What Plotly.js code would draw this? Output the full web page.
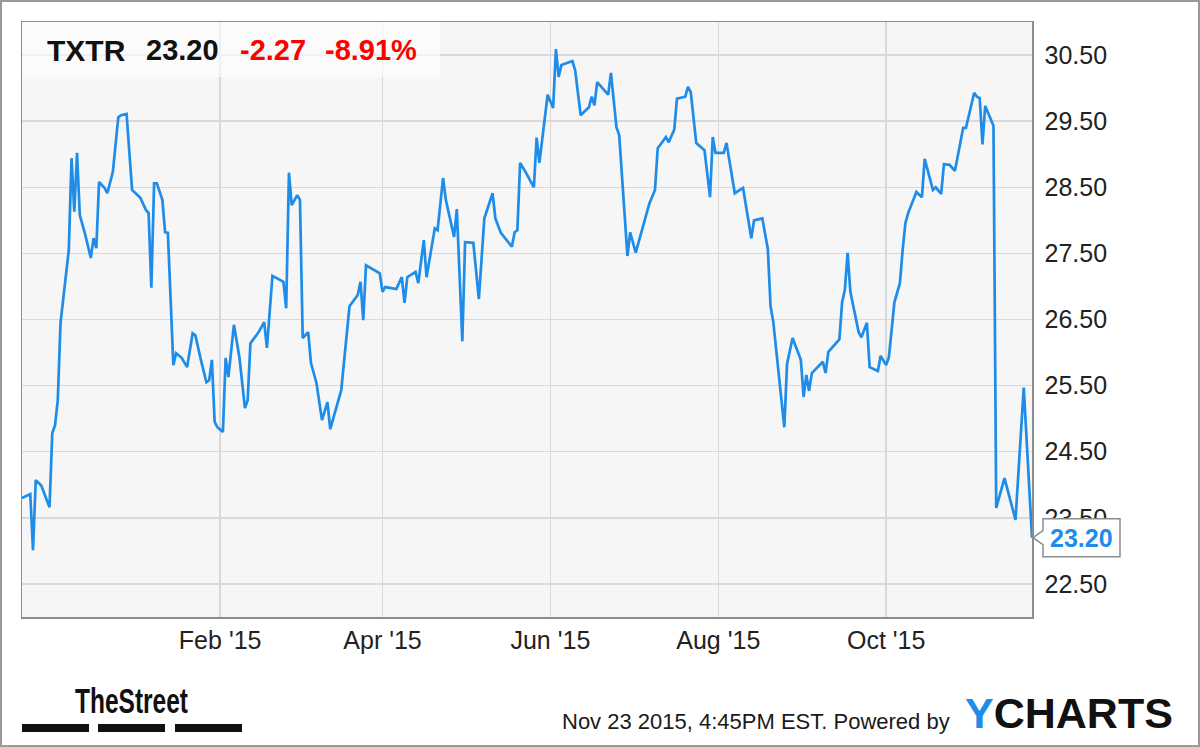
<!DOCTYPE html>
<html><head><meta charset="utf-8">
<script src="https://cdn.plot.ly/plotly-3.0.1.min.js"></script>
<style>html,body{margin:0;padding:0;background:#fff;}#chart{width:1200px;height:747px;}</style>
</head><body><div id="chart"></div>
<script>
const ticker = 'TXTR';
const dates = [
'2014-11-21','2014-11-24','2014-11-25','2014-11-26','2014-11-28','2014-12-01','2014-12-02','2014-12-03','2014-12-04','2014-12-05',
'2014-12-08','2014-12-09','2014-12-10','2014-12-11','2014-12-12','2014-12-14','2014-12-16','2014-12-17','2014-12-18','2014-12-19',
'2014-12-21','2014-12-22','2014-12-24','2014-12-26','2014-12-27','2014-12-29','2014-12-31','2015-01-03','2015-01-05','2015-01-06',
'2015-01-07','2015-01-08','2015-01-09','2015-01-11','2015-01-12','2015-01-13','2015-01-15','2015-01-16','2015-01-18','2015-01-20',
'2015-01-22','2015-01-23','2015-01-25','2015-01-27','2015-01-28','2015-01-29','2015-01-30','2015-01-31','2015-02-02','2015-02-03',
'2015-02-04','2015-02-06','2015-02-08','2015-02-10','2015-02-11','2015-02-12','2015-02-15','2015-02-17','2015-02-18','2015-02-20',
'2015-02-24','2015-02-25','2015-02-26','2015-02-27','2015-03-01','2015-03-02','2015-03-03','2015-03-05','2015-03-06','2015-03-08',
'2015-03-10','2015-03-12','2015-03-13','2015-03-17','2015-03-20','2015-03-23','2015-03-24','2015-03-25','2015-03-26','2015-03-31',
'2015-04-01','2015-04-02','2015-04-06','2015-04-08','2015-04-09','2015-04-10','2015-04-13','2015-04-14','2015-04-16','2015-04-17',
'2015-04-20','2015-04-21','2015-04-23','2015-04-24','2015-04-27','2015-04-28','2015-04-30','2015-05-01','2015-05-04','2015-05-06',
'2015-05-08','2015-05-11','2015-05-12','2015-05-14','2015-05-18','2015-05-19','2015-05-20','2015-05-21','2015-05-23','2015-05-26',
'2015-05-27','2015-05-28','2015-05-31','2015-06-02','2015-06-03','2015-06-04','2015-06-05','2015-06-09','2015-06-10','2015-06-12',
'2015-06-15','2015-06-16','2015-06-17','2015-06-18','2015-06-22','2015-06-23','2015-06-25','2015-06-26','2015-06-29','2015-06-30',
'2015-07-02','2015-07-05','2015-07-07','2015-07-09','2015-07-10','2015-07-13','2015-07-14','2015-07-16','2015-07-17','2015-07-20',
'2015-07-21','2015-07-22','2015-07-24','2015-07-27','2015-07-29','2015-07-30','2015-07-31','2015-08-03','2015-08-04','2015-08-07',
'2015-08-10','2015-08-13','2015-08-14','2015-08-17','2015-08-19','2015-08-20','2015-08-21','2015-08-25','2015-08-26','2015-08-28',
'2015-08-31','2015-09-01','2015-09-02','2015-09-03','2015-09-04','2015-09-08','2015-09-09','2015-09-10','2015-09-14','2015-09-15',
'2015-09-16','2015-09-17','2015-09-18','2015-09-21','2015-09-22','2015-09-24','2015-09-25','2015-09-28','2015-09-29','2015-10-01',
'2015-10-02','2015-10-04','2015-10-06','2015-10-07','2015-10-08','2015-10-09','2015-10-12','2015-10-14','2015-10-15','2015-10-18',
'2015-10-19','2015-10-21','2015-10-22','2015-10-24','2015-10-26','2015-10-29','2015-10-30','2015-11-02','2015-11-03','2015-11-04',
'2015-11-05','2015-11-06','2015-11-09','2015-11-10','2015-11-13','2015-11-17','2015-11-20','2015-11-23'
];
const prices = [
23.80,23.86,23.01,24.07,23.99,23.66,24.78,24.90,25.28,26.45,
27.55,28.94,28.13,29.02,28.08,27.78,27.43,27.73,27.58,28.58,
28.49,28.41,28.73,29.56,29.59,29.61,28.46,28.34,28.16,28.11,
26.98,28.56,28.56,28.31,27.82,27.81,25.81,25.99,25.92,25.78,
26.29,26.26,25.89,25.55,25.58,25.89,24.95,24.87,24.80,25.92,
25.63,26.42,25.93,25.16,25.28,26.14,26.31,26.46,26.07,27.16,
27.07,26.67,28.72,28.23,28.38,28.31,26.22,26.31,25.84,25.54,
24.98,25.25,24.84,25.43,26.70,26.87,27.07,26.49,27.32,27.20,
26.92,26.99,26.96,27.14,26.75,27.14,27.22,27.05,27.70,27.14,
27.88,27.85,28.64,28.31,27.75,28.17,26.17,27.67,27.66,26.81,
28.03,28.41,28.03,27.81,27.60,27.82,27.85,28.87,28.73,28.50,
29.25,28.87,29.90,29.70,30.59,30.17,30.35,30.41,30.27,29.59,
29.71,29.87,29.74,30.09,29.90,30.23,29.41,29.29,27.46,27.82,
27.51,27.97,28.26,28.46,29.09,29.26,29.18,29.37,29.84,29.87,
30.02,29.94,29.17,29.06,28.35,29.26,29.02,29.02,29.17,28.41,
28.49,27.73,28.00,28.03,27.57,26.70,26.46,24.87,25.83,26.22,
25.89,25.33,25.66,25.42,25.69,25.86,25.69,26.01,26.20,26.76,
26.95,27.51,26.92,26.31,26.23,26.45,25.78,25.72,25.95,25.81,
25.93,26.76,27.05,27.55,27.96,28.11,28.43,28.35,28.93,28.46,
28.50,28.40,28.85,28.84,28.75,29.40,29.40,29.93,29.87,29.85,
29.15,29.73,29.43,23.65,24.10,23.47,25.47,23.20
];
const xRange = ['2014-11-21', '2015-11-23'];
const yRange = [22, 31];
const xTickVals = ['2015-02-01','2015-04-01','2015-06-01','2015-08-01','2015-10-01'];
const xTickText = ["Feb '15","Apr '15","Jun '15","Aug '15","Oct '15"];
const yTickVals = [22.5,23.5,24.5,25.5,26.5,27.5,28.5,29.5,30.5];
const yTickText = ['22.50','23.50','24.50','25.50','26.50','27.50','28.50','29.50','30.50'];
const footerText = 'Nov 23 2015, 4:45PM EST. Powered by';
const streetLogo = 'TheStreet';

const last = prices[prices.length - 1];
const prev = prices[prices.length - 2];
const chg = last - prev;
const pct = chg / prev * 100;

const W = 1200, H = 747, L = 22, R = 168, T = 22, B = 130;
const PW = W - L - R, PH = H - T - B;
const px = x => (x - L) / PW;
const py = y => (H - B - y) / PH;

const BLUE = '#1e8ce8';
const FONT = 'Liberation Sans, Arial, Helvetica, sans-serif';

const trace = {
  x: dates, y: prices, type: 'scatter', mode: 'lines',
  line: {color: BLUE, width: 2.7}, hoverinfo: 'skip'
};

const ann = (x, y, text, size, color) => ({
  xref: 'paper', yref: 'paper', x: px(x), y: py(y), text: text, showarrow: false,
  xanchor: 'left', yanchor: 'middle', font: {family: FONT, size: size, color: color}
});

const annotations = [
  ann(45, 50, '<b>' + ticker + '</b>', 30, '#111'),
  ann(144, 50, '<b>' + last.toFixed(2) + '</b>', 29, '#111'),
  ann(238, 50, '<b>' + chg.toFixed(2) + '</b>', 29, '#ff0000'),
  ann(323, 50, '<b>' + pct.toFixed(2) + '%</b>', 29, '#ff0000'),
  ann(560, 721, footerText, 22, '#1a1a1a'),
  ann(963, 713, '<b><span style="color:' + BLUE + '">Y</span>CHARTS</b>', 43, '#111'),
  ann(73, 700, '<b>' + streetLogo + '</b>', 36, '#111'),
  {xref: 'paper', yref: 'y', x: 1, y: last, xshift: 49.5, xanchor: 'center', yanchor: 'middle',
   showarrow: false, text: '<b>' + last.toFixed(2) + '</b>', font: {family: FONT, size: 25, color: BLUE}}
];

const shapes = [
  {type: 'rect', xref: 'paper', yref: 'paper', x0: px(22), x1: px(440), y0: py(77), y1: py(22),
   fillcolor: 'rgba(255,255,255,0.6)', line: {width: 0}, layer: 'above'},
  {type: 'path', xref: 'paper', yref: 'y', xsizemode: 'pixel', ysizemode: 'pixel', xanchor: 1, yanchor: last,
   path: 'M 1 0 L 11 7 L 11 19 L 88 19 L 88 -19 L 11 -19 L 11 -7 Z',
   fillcolor: '#ffffff', line: {color: '#8c8c8c', width: 1.5}, layer: 'above'},
  {type: 'rect', xref: 'paper', yref: 'paper', x0: px(22), x1: px(89), y0: py(732), y1: py(724), fillcolor: '#111', line: {width: 0}},
  {type: 'rect', xref: 'paper', yref: 'paper', x0: px(98), x1: px(165), y0: py(732), y1: py(724), fillcolor: '#111', line: {width: 0}},
  {type: 'rect', xref: 'paper', yref: 'paper', x0: px(175), x1: px(242), y0: py(732), y1: py(724), fillcolor: '#111', line: {width: 0}},
  {type: 'rect', xref: 'paper', yref: 'paper', x0: px(1), x1: px(1199), y0: py(746), y1: py(1), fillcolor: 'rgba(0,0,0,0)', line: {color: '#9a9a9a', width: 2}}
];

const layout = {
  width: W, height: H, margin: {l: L, r: R, t: T, b: B, pad: 0},
  paper_bgcolor: '#ffffff', plot_bgcolor: '#f6f6f6', showlegend: false,
  font: {family: FONT, color: '#222'},
  xaxis: {type: 'date', range: xRange, tickvals: xTickVals, ticktext: xTickText,
    showgrid: true, gridcolor: '#d9d9d9', gridwidth: 1.5, zeroline: false,
    showline: true, linecolor: '#8c8c8c', linewidth: 1.5, mirror: true,
    ticks: '', tickfont: {family: FONT, size: 25, color: '#222'}, ticklabelstandoff: 0, fixedrange: true},
  yaxis: {side: 'right', range: yRange, tickvals: yTickVals, ticktext: yTickText,
    showgrid: true, gridcolor: '#d9d9d9', gridwidth: 1.5, zeroline: false,
    showline: true, linecolor: '#8c8c8c', linewidth: 1.5, mirror: true,
    ticks: '', tickfont: {family: FONT, size: 25, color: '#222'}, ticklabelstandoff: 6, fixedrange: true},
  annotations: annotations, shapes: shapes
};

Plotly.newPlot('chart', [trace], layout, {displayModeBar: false, staticPlot: true}).then(gd => {
  // condense the TheStreet wordmark horizontally to the logo's narrow proportions
  gd.querySelectorAll('text.annotation-text').forEach(t => {
    if (t.textContent === streetLogo) {
      const bb = t.getBBox();
      const s = 113 / bb.width;
      t.setAttribute('transform', 'translate(' + (bb.x * (1 - s)) + ',0) scale(' + s + ',1)');
    }
  });
});
</script></body></html>
